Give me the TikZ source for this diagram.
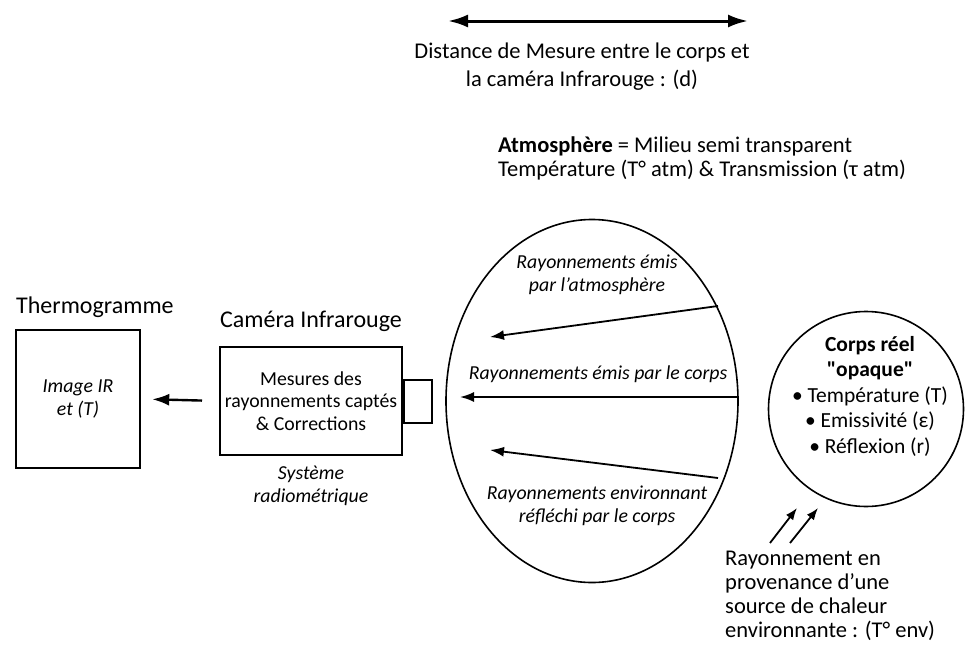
\documentclass[tikz,border=0pt]{standalone}
\usepackage{fontspec}
\setmainfont{Carlito}
\usetikzlibrary{shapes.geometric,arrows.meta}
\begin{document}
\begin{tikzpicture}[x=1pt,y=-1pt,>={Latex[length=14pt,width=10pt]},
  txt/.style={font=\fontsize{22.5}{24}\selectfont,align=center,inner sep=0pt},
  small/.style={font=\fontsize{19.8}{22.5}\selectfont,align=center,inner sep=0pt},
  slant/.style={small,font=\fontsize{19.8}{23}\selectfont\itshape},
  ray/.style={draw,line width=1.8pt,->}]
\useasboundingbox (0,0) rectangle (970,645);

% boxes
\node[draw, line width=2.4pt, minimum width=124pt, minimum height=138pt, slant] (1) at (78,399) {Image IR\\et (T)};
\node[draw, line width=2pt, minimum width=182pt, minimum height=108pt, small] (2) at (311,401) {Mesures des\\rayonnements captés\\\& Corrections};
\node[draw, line width=2pt, minimum width=28pt, minimum height=43pt, anchor=west] (3) at (2.east) {};
\node[draw, ellipse, line width=1.6pt, minimum width=292pt, minimum height=363pt, inner sep=0pt] (4) at (592,401) {};
\node[draw, circle, line width=1.6pt, minimum size=195pt, inner sep=0pt] (5) at (866,409) {};

% titles
\node[txt, font=\fontsize{24}{24}\selectfont, anchor=west] (t1) at (16,307) {Thermogramme};
\node[txt, font=\fontsize{24}{24}\selectfont] (t2) at (311,321) {Caméra Infrarouge};
\node[slant, font=\fontsize{19.8}{22.5}\selectfont\itshape] (t3) at (311,486) {Système\\radiométrique};
\node[txt, font=\fontsize{22.5}{28}\selectfont] (t4) at (582,67) {Distance de Mesure entre le corps et\\la caméra Infrarouge : (d)};
\node[txt, align=left, anchor=west] (t5) at (498,158) {\textbf{Atmosphère} = Milieu semi transparent\\Température (T° atm) \& Transmission (τ atm)};
\node[txt, font=\fontsize{21.5}{25.5}\selectfont] (t6) at (870,396) {\textbf{Corps réel}\\\textbf{\textquotedbl opaque\textquotedbl}\\• Température (T)\\• Emissivité (ε)\\• Réflexion (r)};
\node[txt, font=\fontsize{22.5}{24}\selectfont, align=left, anchor=west] (t7) at (725,596) {Rayonnement en\\provenance d'une\\source de chaleur\\environnante : (T° env)};

% labels in the atmosphere
\node[slant] (r1) at (597,275) {Rayonnements émis\\par l'atmosphère};
\node[slant] (r2) at (598,374) {Rayonnements émis par le corps};
\node[slant] (r3) at (597,506) {Rayonnements environnant\\réfléchi par le corps};

% arrow ends
\coordinate (d1) at (448,21);
\coordinate (d2) at (748,21);
\coordinate (a1) at (718,306);
\coordinate (b1) at (490,337);
\coordinate (a2) at (737,397);
\coordinate (b2) at (460,397);
\coordinate (a3) at (718,478);
\coordinate (b3) at (490,450);
\coordinate (s1) at (770,543);
\coordinate (e1) at (797,508);
\coordinate (s2) at (790,543);
\coordinate (e2) at (818,508);

\path[draw,line width=3pt,<->,>={Latex[length=20pt,width=13pt]}] (d1) -- (d2);
\path[draw,line width=2.4pt,->,shorten <=17pt,shorten >=11pt,>={Latex[length=17pt,width=12pt]}] (2.west) -- (1.east);
\path[ray] (a1) -- (b1);
\path[ray] (a2) -- (b2);
\path[ray] (a3) -- (b3);
\path[ray,>={Latex[length=12pt,width=9pt]}] (s1) -- (e1);
\path[ray,>={Latex[length=12pt,width=9pt]}] (s2) -- (e2);
\end{tikzpicture}
\end{document}
